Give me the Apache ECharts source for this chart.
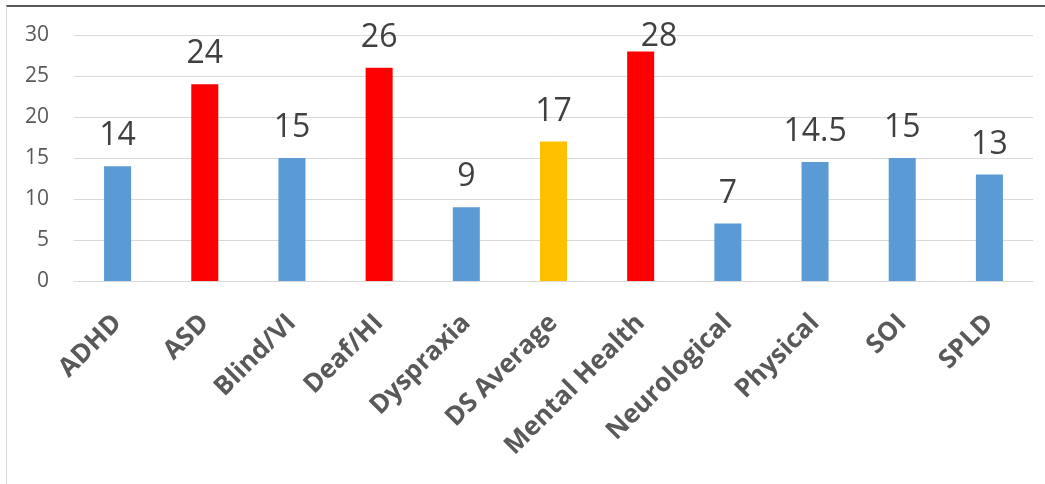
<!DOCTYPE html>
<html>
<head>
<meta charset="utf-8">
<script src="https://cdn.jsdelivr.net/npm/echarts@6/dist/echarts.min.js"></script>
<style>
  html, body { margin: 0; padding: 0; background: #fff; }
  #frame {
    position: absolute; left: 6px; top: 5px; width: 1039px; height: 477px;
    border-top: 2px solid #595959; border-left: 1px solid #d9d9d9; border-bottom: 1px solid #d9d9d9;
  }
  #chart { position: absolute; left: 0; top: 0; width: 1045px; height: 484px; }
</style>
</head>
<body>
<div id="frame"></div>
<div id="chart"></div>
<script>
// categories and values
const categories = ['ADHD', 'ASD', 'Blind/VI', 'Deaf/HI', 'Dyspraxia', 'DS Average',
  'Mental Health', 'Neurological', 'Physical', 'SOI', 'SPLD']
const values = [14, 24, 15, 26, 9, 17, 28, 7, 14.5, 15, 13]
// bar colour per category: blue = normal, red = high, gold = average
const barColors = ['#5B9BD5', '#FF0000', '#5B9BD5', '#FF0000', '#5B9BD5', '#FFC000',
  '#FF0000', '#5B9BD5', '#5B9BD5', '#5B9BD5', '#5B9BD5']
const yTicks = [0, 5, 10, 15, 20, 25, 30]

const LABEL_TOP = 21 // labels are kept inside the chart area, like excel does

const chart = echarts.init(document.getElementById('chart'))
chart.setOption({
  animation: false,
  textStyle: { fontFamily: 'Open Sans' },
  grid: { left: 74, right: 12, top: 35, bottom: 203 },
  xAxis: {
    type: 'category',
    data: categories,
    axisLine: { show: true, lineStyle: { color: '#d9d9d9', width: 1 } },
    axisTick: { show: false },
    axisLabel: {
      rotate: 45,
      interval: 0,
      margin: 38,
      color: '#595959',
      fontSize: 26,
      fontWeight: 'bold',
      fontFamily: 'Open Sans'
    }
  },
  yAxis: {
    type: 'value',
    min: yTicks[0],
    max: yTicks[yTicks.length - 1],
    interval: 5,
    axisLine: { show: false },
    axisTick: { show: false },
    splitLine: { lineStyle: { color: '#d9d9d9', width: 1 } },
    axisLabel: { color: '#595959', fontSize: 21, margin: 25, fontFamily: 'Open Sans' }
  },
  series: [{
    type: 'bar',
    barWidth: '31%',
    data: values.map((v, i) => ({ value: v, itemStyle: { color: barColors[i] } })),
    label: {
      show: true,
      position: 'top',
      distance: 14,
      color: '#404040',
      fontSize: 32,
      fontFamily: 'Open Sans'
    },
    labelLayout(params) {
      if (params.labelRect.y >= LABEL_TOP) return {}
      return { y: LABEL_TOP, verticalAlign: 'top' }
    }
  }]
})
</script>
</body>
</html>
